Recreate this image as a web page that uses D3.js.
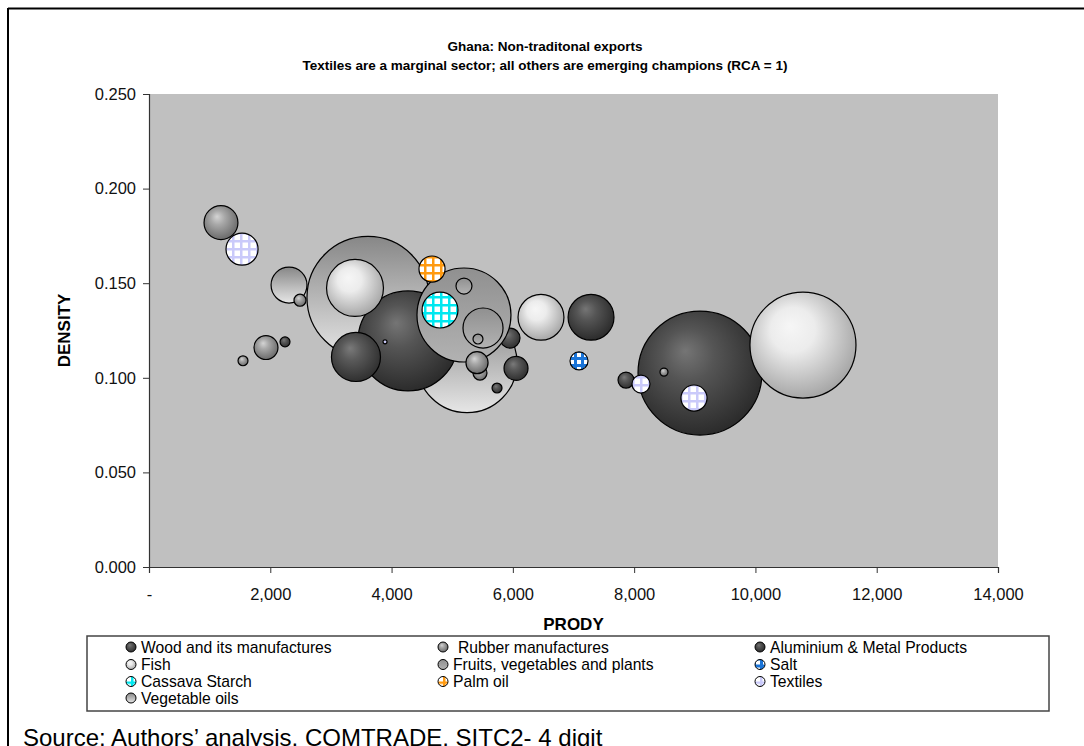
<!DOCTYPE html>
<html>
<head>
<meta charset="utf-8">
<script src="https://cdn.jsdelivr.net/npm/d3@7"></script>
<style>
  html, body { margin: 0; padding: 0; background: #fff; }
  svg { display: block; }
  text { font-family: "Liberation Sans", Arial, sans-serif; }
</style>
</head>
<body>
<svg id="chart" width="1084" height="746"></svg>
<script>
// ---------- DATA ----------
const categories = [
  "Wood and its manufactures", "Rubber manufactures", "Aluminium & Metal Products",
  "Fish", "Fruits, vegetables and plants", "Salt",
  "Cassava Starch", "Palm oil", "Textiles",
  "Vegetable oils"
];
// points in drawing order
const pointCategory = [
  "Rubber manufactures", "Textiles", "Vegetable oils", "Rubber manufactures",
  "Rubber manufactures", "Wood and its manufactures", "Rubber manufactures",
  "Vegetable oils", "Vegetable oils", "Aluminium & Metal Products", "Fish",
  "Wood and its manufactures", "Textiles", "Wood and its manufactures",
  "Fruits, vegetables and plants", "Fruits, vegetables and plants",
  "Fruits, vegetables and plants", "Fruits, vegetables and plants",
  "Cassava Starch", "Palm oil", "Rubber manufactures", "Rubber manufactures",
  "Wood and its manufactures", "Wood and its manufactures", "Fish",
  "Aluminium & Metal Products", "Salt", "Wood and its manufactures",
  "Aluminium & Metal Products", "Rubber manufactures", "Textiles", "Textiles", "Fish"
];
const prody = [
  1187, 1534, 2309, 2490,
  1929, 2243, 1550,
  3611, 5244, 4271, 3397,
  3413, 3892, 5953,
  5194, 5194,
  5508, 5425,
  4799, 4667, 5458, 5409,
  6052, 5739, 6464,
  7289, 7091, 7866,
  9086, 8492, 8113, 8987, 10784
];
const density = [
  0.182, 0.168, 0.149, 0.141,
  0.116, 0.119, 0.109,
  0.1425, 0.108, 0.1195, 0.1475,
  0.111, 0.119, 0.121,
  0.1332, 0.1485,
  0.1263, 0.1205,
  0.1358, 0.1575, 0.1025, 0.108,
  0.105, 0.0946, 0.132,
  0.132, 0.1089, 0.0988,
  0.1025, 0.103, 0.0967, 0.0893, 0.1173
];
const bubbleSize = [
  6.6, 5.9, 7.4, 0.83,
  3.3, 0.57, 0.57,
  85.4, 57.4, 57.4, 18.6,
  13.8, 0.09, 2.3,
  50.7, 1.47,
  9.2, 0.57,
  7.4, 3.9, 1.12, 2.8,
  3.3, 0.57, 12.1,
  12.1, 1.86, 1.47,
  88.2, 0.37, 1.86, 3.9, 64.5
];
const xTicks = [0, 2000, 4000, 6000, 8000, 10000, 12000, 14000];
const yTicks = [0, 0.05, 0.10, 0.15, 0.20, 0.25];
const titleLines = ["Ghana: Non-traditonal exports",
  "Textiles are a marginal sector; all others are emerging champions (RCA = 1)"];
const sourceText = "Source: Authors\u2019 analysis, COMTRADE, SITC2- 4 digit";

// ---------- STYLE ----------
const fillId = {
  "Wood and its manufactures": "g-dark",
  "Aluminium & Metal Products": "g-dark2",
  "Rubber manufactures": "g-rubber",
  "Fish": "g-fish",
  "Fruits, vegetables and plants": "g-fruit",
  "Vegetable oils": "g-veg",
  "Salt": "p-salt",
  "Cassava Starch": "p-cassava",
  "Palm oil": "p-palm",
  "Textiles": "p-textile"
};

const svg = d3.select("#chart");
const defs = svg.append("defs");

function radial(id, c0, c1, c2) {
  const g = defs.append("radialGradient").attr("id", id)
    .attr("cx", 0.45).attr("cy", 0.42).attr("r", 0.6).attr("fx", 0.38).attr("fy", 0.32);
  g.append("stop").attr("offset", 0).attr("stop-color", c0);
  g.append("stop").attr("offset", 0.35).attr("stop-color", c1);
  g.append("stop").attr("offset", 1).attr("stop-color", c2);
}
radial("g-dark", "#7a7a7a", "#5a5a5a", "#2e2e2e");
radial("g-dark2", "#757575", "#555555", "#2a2a2a");
radial("g-rubber", "#d4d4d4", "#a8a8a8", "#686868");
radial("g-fish", "#f6f6f6", "#ececec", "#a4a4a4");
function linear(id, c0, c1) {
  const g = defs.append("linearGradient").attr("id", id)
    .attr("x1", 0).attr("y1", 0).attr("x2", 0).attr("y2", 1);
  g.append("stop").attr("offset", 0).attr("stop-color", c0);
  g.append("stop").attr("offset", 1).attr("stop-color", c1);
}
linear("g-veg", "#878787", "#e6e6e6");
linear("g-fruit", "#909090", "#b2b2b2");

function grid(id, color, cell, lw) {
  const p = defs.append("pattern").attr("id", id).attr("patternUnits", "userSpaceOnUse")
    .attr("width", cell).attr("height", cell);
  p.append("rect").attr("width", cell).attr("height", cell).attr("fill", "#fff");
  p.append("rect").attr("x", 0).attr("y", 0).attr("width", cell).attr("height", lw).attr("fill", color);
  p.append("rect").attr("x", 0).attr("y", 0).attr("width", lw).attr("height", cell).attr("fill", color);
}
grid("p-salt", "#1a74d8", 7, 3);
grid("p-cassava", "#00e8f0", 8, 2.5);
grid("p-palm", "#ff9a10", 8, 2.5);
grid("p-textile", "#cacafa", 8, 2.5);

// ---------- LAYOUT ----------
const plot = { left: 149, right: 998, top: 94, bottom: 567 };
const x = d3.scaleLinear().domain([0, 14000]).range([plot.left, plot.right]);
const y = d3.scaleLinear().domain([0, 0.25]).range([plot.bottom, plot.top]);
const r = d3.scaleSqrt().domain([0, 100]).range([0, 66]);

// outer frame (top & left)
svg.append("line").attr("x1", 8).attr("x2", 1084).attr("y1", 8.5).attr("y2", 8.5)
  .attr("stroke", "#000").attr("stroke-width", 2);
svg.append("line").attr("x1", 8).attr("x2", 8).attr("y1", 8).attr("y2", 746)
  .attr("stroke", "#000").attr("stroke-width", 2);

// plot background
svg.append("rect").attr("x", plot.left).attr("y", plot.top)
  .attr("width", plot.right - plot.left).attr("height", plot.bottom - plot.top)
  .attr("fill", "#c0c0c0");

// title
svg.selectAll("text.title").data(titleLines).join("text").attr("class", "title")
  .attr("x", 545).attr("y", (d, i) => 51 + i * 19)
  .attr("text-anchor", "middle").attr("font-size", 13.5).attr("font-weight", "bold")
  .attr("fill", "#000").text(d => d);

// bubbles
const pts = prody.map((p, i) => ({ x: p, y: density[i], s: bubbleSize[i], c: pointCategory[i] }));
svg.append("g").selectAll("circle").data(pts).join("circle")
  .attr("cx", d => x(d.x)).attr("cy", d => y(d.y)).attr("r", d => r(d.s))
  .attr("fill", d => `url(#${fillId[d.c]})`)
  .attr("stroke", "#000").attr("stroke-width", 1.2);

// axes
const yAxis = d3.axisLeft(y).tickValues(yTicks).tickFormat(d3.format(".3f")).tickSize(6).tickPadding(7);
const gy = svg.append("g").attr("transform", `translate(${plot.left},0)`).call(yAxis);
const xAxis = d3.axisBottom(x).tickValues(xTicks)
  .tickFormat(d => d === 0 ? "-" : d3.format(",")(d)).tickSize(6).tickPadding(15);
const gx = svg.append("g").attr("transform", `translate(0,${plot.bottom})`).call(xAxis);
[gx, gy].forEach(g => {
  g.select(".domain").attr("stroke", "#333").attr("stroke-width", 1.2);
  g.selectAll(".tick line").attr("stroke", "#333");
  g.selectAll(".tick text").attr("font-size", 16.5).attr("fill", "#111")
    .attr("font-family", "'Liberation Sans', Arial, sans-serif");
});

// axis titles
svg.append("text").attr("x", (plot.left + plot.right) / 2).attr("y", 630)
  .attr("text-anchor", "middle").attr("font-size", 17).attr("font-weight", "bold").text("PRODY");
svg.append("text").attr("transform", `translate(70,${(plot.top + plot.bottom) / 2}) rotate(-90)`)
  .attr("text-anchor", "middle").attr("font-size", 17).attr("font-weight", "bold").text("DENSITY");

// legend
svg.append("rect").attr("x", 87).attr("y", 636).attr("width", 962).attr("height", 75)
  .attr("fill", "#fff").attr("stroke", "#444").attr("stroke-width", 1.5);
const colMarker = [131, 443, 760];
const rowY = [647, 664.5, 681.5, 698];
const lg = svg.append("g").selectAll("g").data(categories).join("g")
  .attr("transform", (d, i) => `translate(${colMarker[i % 3]},${rowY[Math.floor(i / 3)]})`);
lg.append("circle").attr("r", 5).attr("fill", d => `url(#${fillId[d]})`)
  .attr("stroke", "#000").attr("stroke-width", 1);
lg.append("text").attr("x", d => d === "Rubber manufactures" ? 15 : 10).attr("y", 5.5)
  .attr("font-size", 15.7).attr("fill", "#000").text(d => d);

// source
svg.append("text").attr("x", 23).attr("y", 746)
  .attr("font-family", "'Liberation Serif', 'Times New Roman', serif")
  .attr("font-size", 24).attr("fill", "#000").text(sourceText);
</script>
</body>
</html>
